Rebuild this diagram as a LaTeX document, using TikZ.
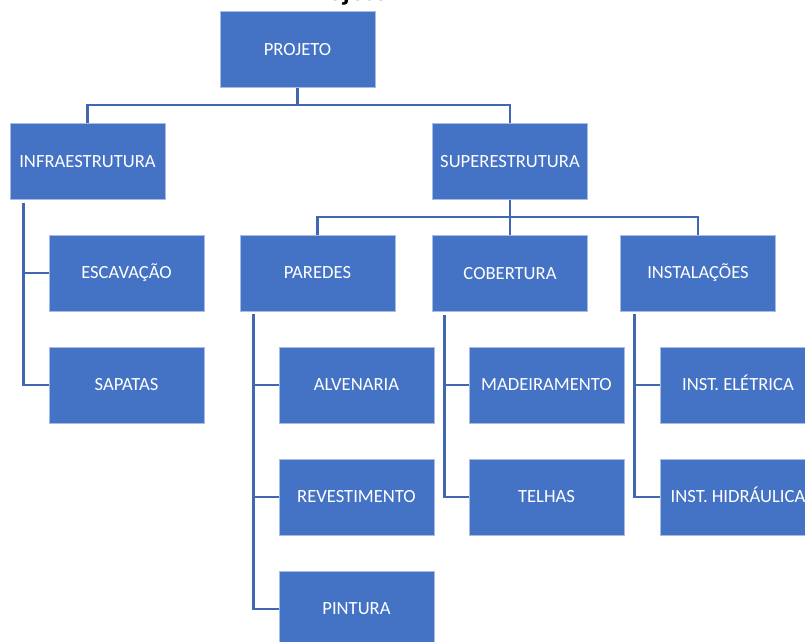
\documentclass[tikz,border=0pt]{standalone}
\usepackage{fontspec}
\setmainfont{Carlito}
\definecolor{boxblue}{HTML}{4472C4}
\definecolor{boxedge}{HTML}{A7BCE4}
\definecolor{linkblue}{HTML}{4067B0}

\begin{document}
\begin{tikzpicture}[x=1pt, y=-1pt]
\tikzset{wbs/.style={rectangle, fill=boxblue, draw=boxedge, line width=0.6pt,
                     minimum width=155pt, minimum height=76pt, inner sep=0pt,
                     text height=12pt, text depth=1pt,
                     text=white, font=\fontsize{18.6}{20}\selectfont},
         link/.style={draw=linkblue, line width=2.6pt}}
\useasboundingbox (0,0) rectangle (805,641);

\node[anchor=base east, font=\bfseries\fontsize{28}{30}\selectfont] (title) at (392,0.5) {Projeto};

\node[wbs] (projeto) at (297.5,49.5) {PROJETO};
\node[wbs] (infra) at (87.5,161.5) {INFRAESTRUTURA};
\node[wbs] (super) at (510,161.5) {SUPERESTRUTURA};

\node[wbs] (escav) at (126.5,273) {ESCAVAÇÃO};
\node[wbs] (sapatas) at (126.5,385) {SAPATAS};

\node[wbs] (paredes) at (317.5,273) {PAREDES};
\node[wbs] (cobertura) at (510,273.5) {COBERTURA};
\node[wbs] (instal) at (698,273) {INSTALAÇÕES};

\node[wbs] (alven) at (356.5,385) {ALVENARIA};
\node[wbs] (revest) at (356.5,497) {REVESTIMENTO};
\node[wbs] (pintura) at (356.5,609) {PINTURA};
\node[wbs] (madeira) at (546.5,385) {MADEIRAMENTO};
\node[wbs] (telhas) at (546.5,497) {TELHAS};
\node[wbs] (eletrica) at (738,385) {INST. ELÉTRICA};
\node[wbs] (hidra) at (738,497) {INST. HIDRÁULICA};

% level 1
\coordinate (bus1) at (0,105);
\draw[link] (projeto.south) -- (projeto.south |- bus1);
\draw[link] (infra.north) -- (infra.north |- bus1) -| (super.north);

% level 2
\coordinate (bus2) at (0,217);
\draw[link] (super.south) -- (cobertura.north);
\draw[link] (paredes.north) -- (paredes.north |- bus2) -| (instal.north);

% children
\draw[link] ([xshift=14pt,yshift=-3pt]infra.south west) |- (sapatas.west);
\draw[link] ([xshift=14pt]infra.south west |- escav.west) -- (escav.west);
\draw[link] ([xshift=14pt,yshift=-3pt]paredes.south west) |- (pintura.west);
\draw[link] ([xshift=14pt]paredes.south west |- alven.west) -- (alven.west);
\draw[link] ([xshift=14pt]paredes.south west |- revest.west) -- (revest.west);
\draw[link] ([xshift=12pt,yshift=-3pt]cobertura.south west) |- (telhas.west);
\draw[link] ([xshift=12pt]cobertura.south west |- madeira.west) -- (madeira.west);
\draw[link] ([xshift=14pt,yshift=-3pt]instal.south west) |- (hidra.west);
\draw[link] ([xshift=14pt]instal.south west |- eletrica.west) -- (eletrica.west);

\end{tikzpicture}
\end{document}
